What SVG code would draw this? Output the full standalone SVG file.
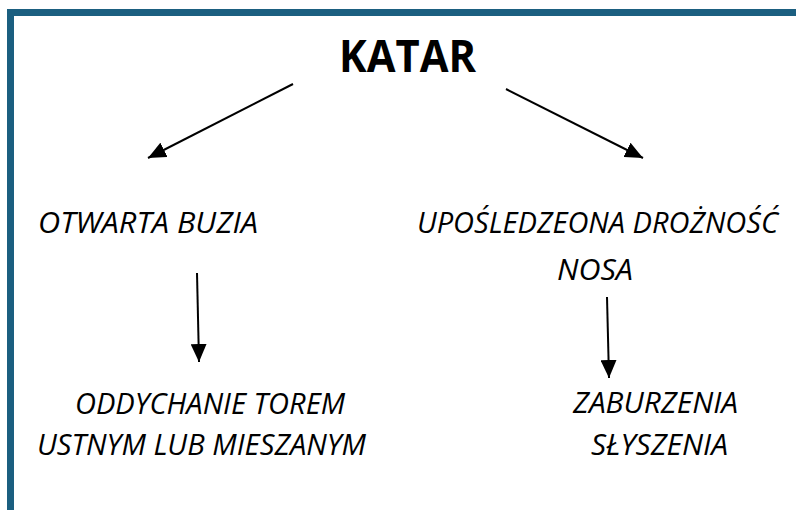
<svg xmlns="http://www.w3.org/2000/svg" width="796" height="510" viewBox="0 0 796 510">
<style>
.lbl{font-family:"Open Sans","Liberation Sans",sans-serif;font-style:italic;font-size:29px;fill:#000}
.title{font-family:"Open Sans","Liberation Sans",sans-serif;font-weight:bold;font-size:44px;fill:#000}
</style>
<defs>
<marker id="ah" markerWidth="18" markerHeight="16" refX="18" refY="8" orient="auto" markerUnits="userSpaceOnUse" viewBox="0 0 18 16">
<path d="M0,0 L18,8 L0,16 z" fill="#000"/>
</marker>
</defs>
<rect width="796" height="510" fill="#fff"/>
<g id="frame">
<rect x="7" y="9" width="789" height="7" fill="#1b5f80"/>
<rect x="7" y="9" width="7" height="501" fill="#1b5f80"/>
</g>
<g id="katar"><text class="title" x="339" y="72" textLength="137" lengthAdjust="spacingAndGlyphs">KATAR</text></g>
<g id="otwarta"><text class="lbl" x="38" y="233" textLength="220" lengthAdjust="spacingAndGlyphs">OTWARTA BUZIA</text></g>
<g id="uposledzeona"><text class="lbl" x="417" y="233" textLength="361" lengthAdjust="spacingAndGlyphs">UPOŚLEDZEONA DROŻNOŚĆ</text><text class="lbl" x="557" y="280" textLength="76" lengthAdjust="spacingAndGlyphs">NOSA</text></g>
<g id="oddychanie"><text class="lbl" x="75" y="414" textLength="270" lengthAdjust="spacingAndGlyphs">ODDYCHANIE TOREM</text><text class="lbl" x="37" y="455" textLength="329" lengthAdjust="spacingAndGlyphs">USTNYM LUB MIESZANYM</text></g>
<g id="zaburzenia"><text class="lbl" x="573" y="413" textLength="165" lengthAdjust="spacingAndGlyphs">ZABURZENIA</text><text class="lbl" x="591" y="455" textLength="137" lengthAdjust="spacingAndGlyphs">SŁYSZENIA</text></g>
<g id="connectors" stroke="#000" stroke-width="2" fill="none">
<path d="M293,84 L148,158" marker-end="url(#ah)"/>
<path d="M506,89 L643,158" marker-end="url(#ah)"/>
<path d="M197,273 L199,362" marker-end="url(#ah)"/>
<path d="M607,297 L609,378" marker-end="url(#ah)"/>
</g>
</svg>
